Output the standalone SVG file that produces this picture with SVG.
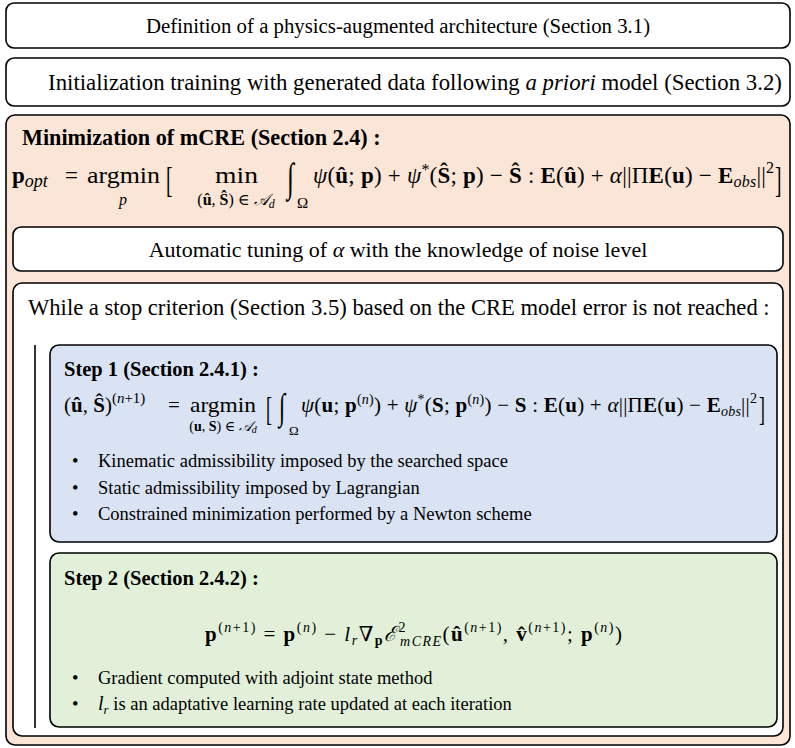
<svg xmlns="http://www.w3.org/2000/svg" width="795" height="748" viewBox="0 0 795 748">
<style>
.box{stroke:#000;stroke-width:1.6}
.w{fill:#fff}
.t{font-family:"Liberation Serif","Times New Roman",serif;fill:#000}
.hd{font-family:"Liberation Serif","Times New Roman",serif;font-weight:bold;fill:#000}
.bl{font-family:"Liberation Serif","Times New Roman",serif;font-size:18.5px;fill:#000}
.m{font-family:"Liberation Serif","DejaVu Serif",serif;fill:#000}
.b{font-weight:bold}
.i{font-style:italic}
</style>
<rect width="795" height="748" fill="#fff"/>

<g id="box-definition">
<rect class="box w" x="6" y="3" width="784" height="45" rx="8"/>
<text class="t" x="398" y="33" font-size="20.8" text-anchor="middle">Definition of a physics-augmented architecture (Section 3.1)</text>
</g>

<g id="box-init">
<rect class="box w" x="6" y="58" width="784" height="48" rx="8"/>
<text class="t" x="415" y="90" font-size="22.8" text-anchor="middle">Initialization training with generated data following <tspan class="i">a priori</tspan> model (Section 3.2)</text>
</g>

<g id="box-mcre">
<rect class="box" x="6" y="115" width="784" height="630" rx="9" fill="#fbe5d6"/>
<text class="hd" x="22" y="145" font-size="22.2">Minimization of mCRE (Section 2.4) :</text>
<g class="m" font-size="23">
<text x="12" y="183"><tspan class="b">p</tspan><tspan class="i" font-size="18" dy="4">opt</tspan></text>
<text x="65" y="183">=</text>
<text x="87" y="183" textLength="73" lengthAdjust="spacingAndGlyphs">argmin</text>
<text x="119" y="205" class="i" font-size="16">p</text>
<text transform="translate(166,192) scale(0.85,1.6)" font-size="23">[</text>
<text x="215" y="183" textLength="43" lengthAdjust="spacingAndGlyphs">min</text>
<text x="236" y="205" font-size="16" text-anchor="middle">(<tspan class="b">û</tspan>, <tspan class="b">Ŝ</tspan>) ∈ <tspan class="i">𝒜</tspan><tspan class="i" font-size="12" dy="3">d</tspan></text>
<text transform="translate(287,191) scale(1,1.6)" font-size="25">∫</text>
<text x="297" y="208" font-size="15">Ω</text>
<text x="313" y="183" textLength="461" lengthAdjust="spacing"><tspan class="i">ψ</tspan>(<tspan class="b">û</tspan>; <tspan class="b">p</tspan>) + <tspan class="i">ψ</tspan><tspan font-size="16" dy="-8">*</tspan><tspan dy="8">(</tspan><tspan class="b">Ŝ</tspan>; <tspan class="b">p</tspan>) − <tspan class="b">Ŝ</tspan> : <tspan class="b">E</tspan>(<tspan class="b">û</tspan>) + <tspan class="i">α</tspan>||Π<tspan class="b">E</tspan>(<tspan class="b">u</tspan>) − <tspan class="b">E</tspan><tspan class="i" font-size="16" dy="4">obs</tspan><tspan dy="-4">||</tspan><tspan font-size="16" dy="-10">2</tspan></text>
<text transform="translate(775,192) scale(0.85,1.6)" font-size="23">]</text>
</g>
</g>

<g id="box-tuning">
<rect class="box w" x="13" y="227" width="770" height="44" rx="8"/>
<text class="t" x="398" y="257" font-size="22" text-anchor="middle">Automatic tuning of <tspan class="i">α</tspan> with the knowledge of noise level</text>
</g>

<g id="box-while">
<rect class="box w" x="13" y="283" width="770" height="453" rx="9"/>
<text class="t" x="28" y="315" font-size="22.6">While a stop criterion (Section 3.5) based on the CRE model error is not reached :</text>
</g>

<g id="connectors">
<line x1="35" y1="345" x2="35" y2="728" stroke="#000" stroke-width="1.6"/>
</g>

<g id="box-step1">
<rect class="box" x="50" y="345" width="727" height="197" rx="9" fill="#dae3f3"/>
<text class="hd" x="64" y="376" font-size="20.5">Step 1 (Section 2.4.1) :</text>
<g class="m" font-size="21">
<text x="64" y="412">(<tspan class="b">û</tspan>, <tspan class="b">Ŝ</tspan>)<tspan font-size="15" dy="-9">(<tspan class="i">n</tspan>+1)</tspan></text>
<text x="168" y="412">=</text>
<text x="190" y="412" textLength="66" lengthAdjust="spacingAndGlyphs">argmin</text>
<text x="223" y="431" font-size="14" text-anchor="middle">(<tspan class="b">u</tspan>, <tspan class="b">S</tspan>) ∈ <tspan class="i">𝒜</tspan><tspan class="i" font-size="10" dy="2">d</tspan></text>
<text transform="translate(266,420) scale(0.85,1.6)" font-size="21">[</text>
<text transform="translate(279,419) scale(1,1.6)" font-size="23">∫</text>
<text x="289" y="435" font-size="13">Ω</text>
<text x="301" y="412" textLength="456" lengthAdjust="spacing"><tspan class="i">ψ</tspan>(<tspan class="b">u</tspan>; <tspan class="b">p</tspan><tspan font-size="14" dy="-8">(<tspan class="i">n</tspan>)</tspan><tspan dy="8">) + </tspan><tspan class="i">ψ</tspan><tspan font-size="14" dy="-8">*</tspan><tspan dy="8">(</tspan><tspan class="b">S</tspan>; <tspan class="b">p</tspan><tspan font-size="14" dy="-8">(<tspan class="i">n</tspan>)</tspan><tspan dy="8">) − </tspan><tspan class="b">S</tspan> : <tspan class="b">E</tspan>(<tspan class="b">u</tspan>) + <tspan class="i">α</tspan>||Π<tspan class="b">E</tspan>(<tspan class="b">u</tspan>) − <tspan class="b">E</tspan><tspan class="i" font-size="14" dy="4">obs</tspan><tspan dy="-4">||</tspan><tspan font-size="14" dy="-9">2</tspan></text>
<text transform="translate(759,420) scale(0.85,1.6)" font-size="21">]</text>
</g>
<text class="bl" x="72" y="467">•</text><text class="bl" x="98" y="467">Kinematic admissibility imposed by the searched space</text>
<text class="bl" x="72" y="494">•</text><text class="bl" x="98" y="494">Static admissibility imposed by Lagrangian</text>
<text class="bl" x="72" y="520">•</text><text class="bl" x="98" y="520">Constrained minimization performed by a Newton scheme</text>
</g>

<g id="box-step2">
<rect class="box" x="50" y="553" width="727" height="174" rx="9" fill="#e2f0d9"/>
<text class="hd" x="64" y="585" font-size="20.5">Step 2 (Section 2.4.2) :</text>
<text class="m" x="205" y="641" font-size="21" textLength="417" lengthAdjust="spacing"><tspan class="b">p</tspan><tspan font-size="14" dy="-9">(<tspan class="i">n</tspan>+1)</tspan><tspan dy="9"> = </tspan><tspan class="b">p</tspan><tspan font-size="14" dy="-9">(<tspan class="i">n</tspan>)</tspan><tspan dy="9"> − </tspan><tspan class="i">l</tspan><tspan class="i" font-size="14" dy="4">r</tspan><tspan dy="-4">∇</tspan><tspan class="b" font-size="14" dy="4">p</tspan><tspan class="i" dy="-4">ℰ</tspan><tspan font-size="14" dy="-9">2</tspan><tspan class="i" font-size="14" dx="-7" dy="14">mCRE</tspan><tspan dy="-5">(</tspan><tspan class="b">û</tspan><tspan font-size="14" dy="-9">(<tspan class="i">n</tspan>+1)</tspan><tspan dy="9">, </tspan><tspan class="b">v̂</tspan><tspan font-size="14" dy="-9">(<tspan class="i">n</tspan>+1)</tspan><tspan dy="9">; </tspan><tspan class="b">p</tspan><tspan font-size="14" dy="-9">(<tspan class="i">n</tspan>)</tspan><tspan dy="9">)</tspan></text>
<text class="bl" x="72" y="684">•</text><text class="bl" x="98" y="684">Gradient computed with adjoint state method</text>
<text class="bl" x="72" y="710">•</text><text class="bl" x="98" y="710"><tspan class="m i" font-size="20">l</tspan><tspan class="m i" font-size="13" dy="4">r</tspan><tspan dy="-4"> is an adaptative learning rate updated at each iteration</tspan></text>
</g>
</svg>
